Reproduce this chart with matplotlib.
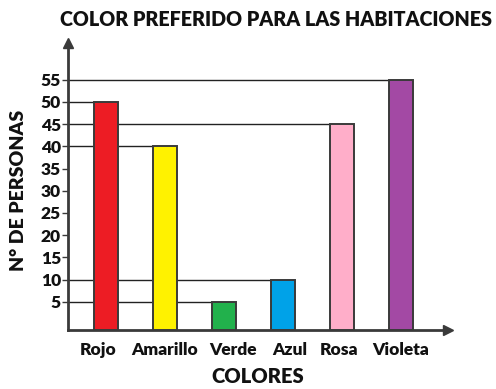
import matplotlib
matplotlib.use("Agg")
import matplotlib.pyplot as plt
import numpy as np

# data
colores = ["Rojo", "Amarillo", "Verde", "Azul", "Rosa", "Violeta"]
personas = [50, 40, 5, 10, 45, 55]
bar_colors = ["#ED1C24", "#FFF200", "#22B14C", "#00A2E8", "#FFAEC9", "#A349A4"]
y_ticks = [5, 10, 15, 20, 25, 30, 35, 40, 45, 50, 55]

plt.rcParams['font.family'] = ['Lato', 'DejaVu Sans']
text_color = "#111111"
axis_color = "#3a3a3a"

fig = plt.figure(figsize=(4.96, 3.89), dpi=100)
ax = fig.add_axes([0.137, 0.152, 0.766, 0.738])

base = -1.3
x = np.arange(len(colores))
width = 0.41
ax.bar(x, np.array(personas) - base, bottom=base, width=width,
       color=bar_colors, edgecolor="#3a3a3a", linewidth=1.4, zorder=3)

# guide lines from the axis to each bar
x_left = -0.644
for xi, v in zip(x, personas):
    ax.plot([x_left, xi - width / 2], [v, v], color="#222222", lw=1.0, zorder=2)

ax.set_xlim(x_left, 5.8)
ax.set_ylim(base, 63.3)

for s in ["top", "right"]:
    ax.spines[s].set_visible(False)
for s in ["left", "bottom"]:
    ax.spines[s].set_color(axis_color)
    ax.spines[s].set_linewidth(2)

# arrow heads
ax.plot(0, 1, marker="^", color=axis_color, markersize=7, transform=ax.transAxes, clip_on=False)
ax.plot(1, 0, marker=">", color=axis_color, markersize=7, transform=ax.transAxes, clip_on=False)

ax.set_yticks(y_ticks)
ax.set_yticklabels([str(t) for t in y_ticks], fontsize=12.5, fontweight="heavy", color=text_color)
ax.tick_params(axis="y", length=4, width=1, color=axis_color, pad=1)

# category labels (slightly shifted like in the original drawing)
label_shift = [-0.14, 0.0, 0.15, 0.12, -0.04, 0.0]
ax.set_xticks([])
for xi, name, dx in zip(x, colores, label_shift):
    ax.text(xi + dx, -0.07, name, transform=ax.get_xaxis_transform(), ha="center", va="center",
            fontsize=12.5, fontweight="heavy", color=text_color)

ax.text(0.5, -0.163, "COLORES", transform=ax.transAxes, ha="center", va="center",
        fontsize=14.5, fontweight="heavy", color=text_color)
fig.text(0.038, 0.51, "N° DE PERSONAS", rotation=90, ha="center", va="center",
         fontsize=14, fontweight="heavy", color=text_color)
fig.text(0.556, 0.95, "COLOR PREFERIDO PARA LAS HABITACIONES", ha="center", va="center",
         fontsize=14.2, fontweight="heavy", color=text_color)

fig.savefig("out.png", dpi=100)
